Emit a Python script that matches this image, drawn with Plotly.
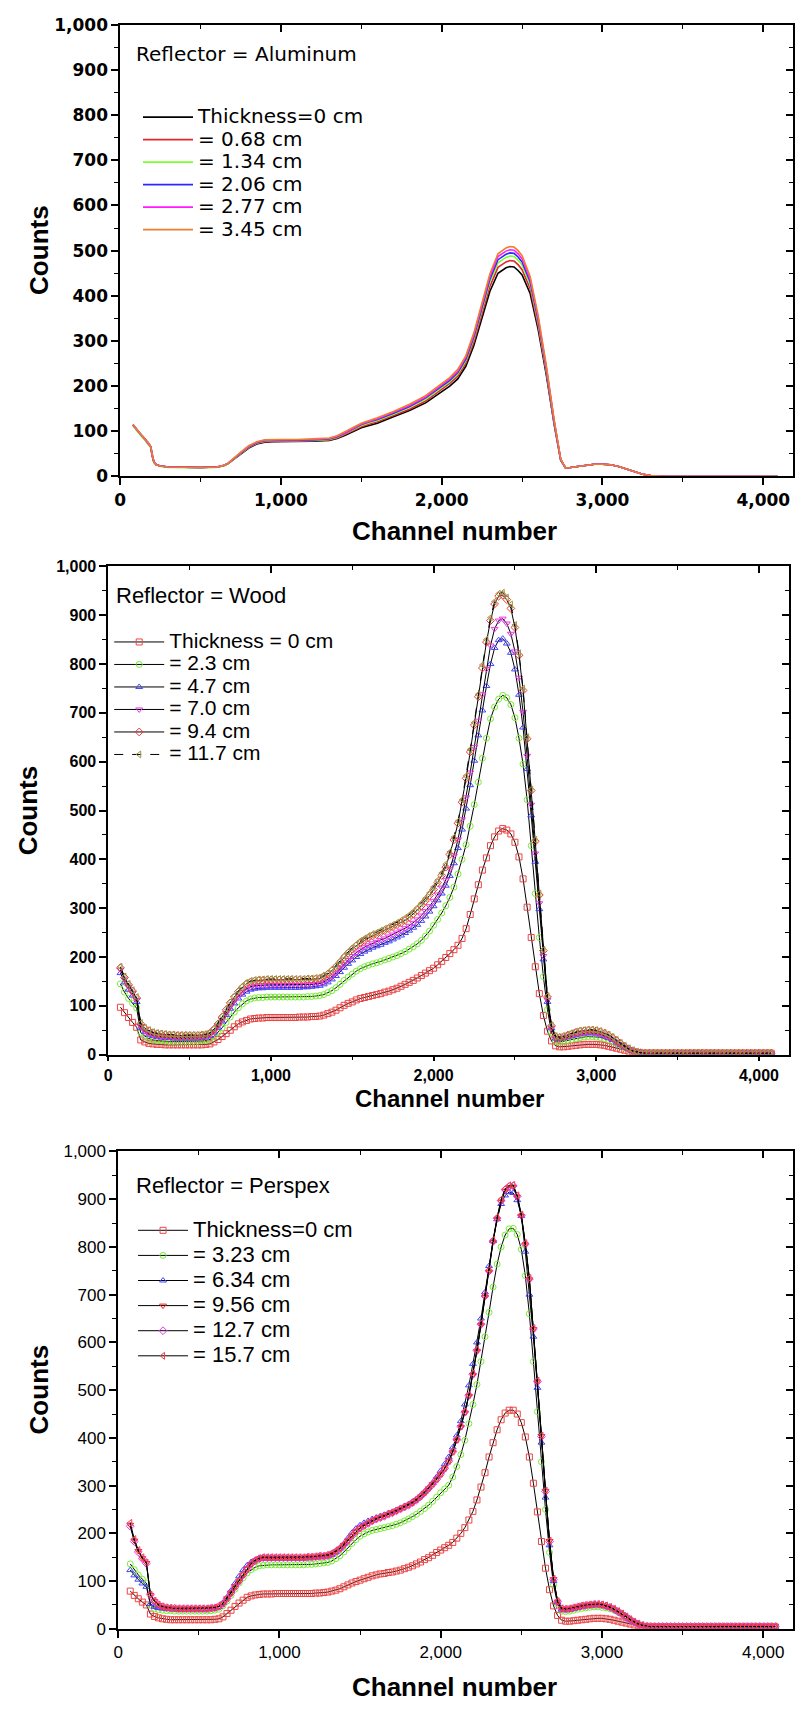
import plotly.graph_objects as go

FONT = "Liberation Sans, Arial, sans-serif"
WIDE = "DejaVu Sans, Verdana, sans-serif"
NARROW = "Liberation Sans Narrow, Arial Narrow, Liberation Sans, sans-serif"
W, H = 795, 1709

# ---------------- data ----------------
# Aluminum reflector (lines only)
AL_CHANNEL = [80, 100, 125, 150, 175, 190, 200, 210, 225, 250,
              300, 400, 500, 600, 640, 670, 700, 750, 800, 850,
              900, 950, 1000, 1100, 1200, 1300, 1350, 1400, 1450, 1500,
              1550, 1600, 1700, 1800, 1900, 2000, 2050, 2100, 2150, 2200,
              2250, 2300, 2350, 2400, 2425, 2450, 2475, 2500, 2550, 2600,
              2650, 2700, 2740, 2770,
              2800, 2850, 2900, 2950, 3000, 3050, 3100, 3150, 3200, 3250,
              3300, 3350, 3400, 3600, 3800, 4000, 4090]
AL_TAIL = [20, 22, 25, 27, 27, 26, 22, 16, 10, 5, 2, 1, 0, 0, 0, 0, 0]
AL_0 = [114, 104, 94, 84, 74, 66, 45, 32, 26, 23,
        21, 20, 20, 21, 23, 28, 36, 50, 63, 72,
        76, 77, 77, 77, 78, 80, 84, 91, 100, 108,
        113, 118, 132, 146, 163, 188, 200, 216, 244, 290,
        352, 410, 450, 462, 465, 464, 456, 446, 405, 325,
        226, 114, 36, 19] + AL_TAIL
AL_068 = [113, 103, 93, 83, 73, 65, 44, 32, 26, 23,
          21, 20, 20, 21, 23, 28, 37, 51, 64, 73,
          77, 78, 78, 78, 79, 81, 85, 93, 102, 110,
          116, 121, 135, 149, 167, 193, 206, 222, 251, 298,
          362, 421, 463, 475, 478, 477, 469, 458, 416, 333,
          231, 116, 37, 19] + AL_TAIL
AL_134 = [112, 102, 92, 82, 72, 64, 44, 31, 25, 22,
          20, 19, 19, 20, 23, 28, 37, 52, 65, 74,
          78, 79, 79, 79, 80, 82, 87, 95, 104, 113,
          119, 124, 138, 153, 171, 197, 210, 227, 256, 305,
          370, 431, 473, 485, 488, 487, 479, 468, 425, 341,
          236, 118, 37, 19] + AL_TAIL
AL_206 = [115, 105, 95, 85, 75, 66, 45, 32, 26, 23,
          21, 20, 20, 21, 24, 29, 38, 53, 66, 75,
          79, 80, 80, 80, 81, 83, 88, 96, 106, 115,
          121, 126, 140, 155, 174, 200, 213, 230, 260, 309,
          375, 437, 480, 492, 495, 494, 486, 475, 431, 346,
          240, 120, 38, 19] + AL_TAIL
AL_277 = [114, 104, 94, 84, 74, 66, 45, 32, 26, 23,
          21, 20, 20, 21, 24, 29, 38, 53, 67, 76,
          80, 81, 81, 81, 82, 84, 89, 97, 107, 116,
          122, 128, 142, 157, 176, 203, 216, 233, 264, 313,
          380, 443, 487, 499, 502, 501, 493, 482, 437, 351,
          243, 122, 38, 19] + AL_TAIL
AL_345 = [115, 105, 95, 85, 75, 66, 45, 32, 26, 23,
          21, 20, 20, 21, 24, 29, 39, 54, 68, 77,
          81, 82, 82, 82, 83, 85, 90, 99, 109, 118,
          124, 130, 144, 160, 179, 206, 219, 237, 267, 318,
          385, 449, 493, 506, 509, 508, 500, 489, 443, 356,
          247, 124, 39, 19] + AL_TAIL
AL_LABELS = ["Thickness=0 cm", "= 0.68 cm", "= 1.34 cm", "= 2.06 cm", "= 2.77 cm", "= 3.45 cm"]

# channel grid of the marker spectra (wood, perspex)
CHANNEL = [75, 100, 125, 150, 175, 200, 225, 250, 275, 300, 325, 350, 375, 400, 425, 450, 475, 500,
           525, 550, 575, 600, 625, 650, 675, 700, 725, 750, 775, 800, 825, 850, 875, 900, 925, 950,
           975, 1000, 1025, 1050, 1075, 1100, 1125, 1150, 1175, 1200, 1225, 1250, 1275, 1300, 1325,
           1350, 1375, 1400, 1425, 1450, 1475, 1500, 1525, 1550, 1575, 1600, 1625, 1650, 1675, 1700,
           1725, 1750, 1775, 1800, 1825, 1850, 1875, 1900, 1925, 1950, 1975, 2000, 2025, 2050, 2075,
           2100, 2125, 2150, 2175, 2200, 2225, 2250, 2275, 2300, 2325, 2350, 2375, 2400, 2425, 2450,
           2475, 2500, 2525, 2550, 2575, 2600, 2625, 2650, 2675, 2700, 2725, 2750, 2775, 2800, 2825,
           2850, 2875, 2900, 2925, 2950, 2975, 3000, 3025, 3050, 3075, 3100, 3125, 3150, 3175, 3200,
           3225, 3250, 3275, 3300, 3325, 3350, 3375, 3400, 3425, 3450, 3475, 3500, 3525, 3550, 3575,
           3600, 3625, 3650, 3675, 3700, 3725, 3750, 3775, 3800, 3825, 3850, 3875, 3900, 3925, 3950,
           3975, 4000, 4025, 4050, 4075]

TAIL3 = [3, 3, 3, 3, 3, 3, 3, 3, 3, 3,
         3, 3, 3, 3, 3, 3, 3, 3, 3, 3,
         3, 3, 3, 3, 3, 3, 3, 3, 3, 3, 3]
TAIL4 = [4, 4, 4, 4, 4, 4, 4, 4, 4, 4,
         4, 4, 4, 4, 4, 4, 4, 4, 4, 4,
         4, 4, 4, 4, 4, 4, 4, 4, 4, 4, 4]
TAIL5 = [5, 5, 5, 5, 5, 5, 5, 5, 5, 5,
         5, 5, 5, 5, 5, 5, 5, 5, 5, 5,
         5, 5, 5, 5, 5, 5, 5, 5, 5, 5, 5]

# Wood reflector
WOOD_0 = [97, 86, 76, 66, 56,
          30, 26, 23, 22,
          21, 21, 20, 20, 20, 20, 20, 20, 20, 20, 20, 20, 21,
          22, 26, 31, 37, 43, 50, 57, 63, 67, 70, 73, 74,
          75, 75, 76, 76, 76, 76, 76, 76, 76, 76, 77, 77, 77, 78, 78,
          79, 81, 84, 87, 91, 96, 101, 105, 108, 112, 115, 117, 119,
          121, 123, 125, 128, 130, 133, 136, 140, 144, 148, 152, 157, 162, 167, 172, 177,
          184, 191, 199, 207, 215, 224, 238, 258, 287, 319, 348, 378, 403, 428, 446, 458,
          463, 460, 452, 435, 405, 360, 302, 240, 180, 125, 80, 48, 28, 18,
          16, 16, 17, 18, 19, 20, 21, 21, 21, 21, 20, 19, 17, 15, 13, 11, 9, 7, 6, 4, 3, 3] + TAIL3
WOOD_23 = [145, 128, 115, 105, 95,
           45, 38, 33, 30,
           29, 28, 28, 27, 27, 27, 27, 27, 27, 27, 27, 28, 29,
           31, 37, 45, 55, 66, 77, 87, 96, 104, 110, 114, 116,
           117, 117, 118, 118, 118, 118, 118, 118, 118, 118, 118, 118, 119, 119, 120,
           121, 123, 127, 131, 137, 144, 152, 159, 165, 171, 176, 180, 183,
           186, 188, 191, 194, 197, 200, 203, 207, 211, 216, 221, 227, 234, 243, 253, 265,
           277, 290, 305, 322, 343, 370, 400, 430, 468, 512, 558, 607, 648, 688, 712, 728,
           736, 731, 717, 690, 648, 595, 522, 428, 330, 240, 160, 92, 45, 27,
           26, 27, 29, 31, 33, 35, 36, 37, 37, 36, 35, 33, 30, 27, 23, 19, 14, 10, 7, 5, 3, 3] + TAIL3
WOOD_47 = [167, 148, 133, 121, 108,
           55, 46, 41, 38,
           36, 35, 34, 34, 33, 33, 33, 33, 33, 33, 33, 34, 35,
           38, 45, 55, 68, 81, 94, 105, 115, 123, 129, 133, 135,
           136, 136, 137, 137, 137, 137, 137, 137, 137, 137, 137, 138, 138, 139, 140,
           141, 144, 148, 154, 161, 169, 178, 186, 193, 200, 206, 211, 215,
           219, 222, 225, 229, 232, 236, 240, 244, 249, 254, 260, 266, 274, 283, 293, 304,
           316, 330, 346, 366, 392, 423, 461, 504, 552, 602, 654, 705, 755, 800, 833, 849,
           852, 842, 823, 789, 737, 670, 585, 490, 395, 298, 195, 108, 54, 33,
           32, 34, 36, 38, 40, 42, 43, 44, 44, 43, 41, 38, 34, 30, 25, 20, 15, 11, 7, 5, 4, 3] + TAIL3
WOOD_70 = [174, 154, 139, 126, 112,
           58, 48, 43, 40,
           38, 37, 36, 36, 35, 35, 35, 35, 35, 35, 35, 36, 37,
           40, 47, 58, 71, 85, 98, 110, 120, 129, 135, 139, 141,
           142, 142, 143, 143, 143, 143, 143, 143, 143, 143, 143, 143, 144, 144, 145,
           146, 149, 154, 160, 168, 177, 186, 194, 202, 209, 215, 220, 224,
           228, 231, 235, 238, 242, 246, 250, 254, 259, 264, 270, 277, 285, 294, 304, 315,
           328, 342, 358, 380, 408, 441, 482, 527, 578, 630, 684, 738, 790, 838, 872, 889,
           893, 883, 862, 826, 772, 702, 612, 512, 412, 310, 202, 112, 55, 34,
           33, 35, 37, 39, 41, 43, 44, 45, 45, 44, 42, 39, 35, 31, 26, 20, 15, 11, 7, 5, 4, 3] + TAIL3
WOOD_94 = [178, 158, 143, 130, 116,
           63, 54, 49, 45,
           43, 42, 41, 40, 40, 39, 39, 39, 39, 39, 39, 40, 41,
           44, 52, 63, 77, 92, 106, 118, 129, 138, 145, 149, 151,
           152, 152, 153, 153, 153, 153, 153, 153, 153, 153, 153, 153, 154, 154, 155,
           156, 160, 165, 172, 180, 189, 199, 208, 216, 223, 229, 234, 239,
           243, 246, 250, 254, 258, 262, 266, 270, 275, 281, 288, 296, 305, 315, 326, 338,
           352, 367, 384, 410, 440, 474, 517, 566, 620, 675, 733, 792, 845, 889, 923, 939,
           941, 932, 914, 875, 818, 746, 647, 541, 437, 327, 213, 118, 59, 37,
           35, 37, 40, 43, 46, 48, 49, 50, 50, 49, 47, 44, 40, 35, 29, 23, 17, 12, 8, 5, 4, 3] + TAIL3
WOOD_117 = [180, 160, 145, 132, 118,
            65, 55, 50, 46,
            44, 43, 42, 41, 41, 40, 40, 40, 40, 40, 40, 41, 42,
            45, 53, 65, 79, 94, 108, 120, 131, 140, 147, 151, 153,
            154, 154, 155, 155, 155, 155, 155, 155, 155, 155, 155, 155, 156, 156, 157,
            158, 162, 167, 174, 182, 192, 202, 211, 219, 226, 233, 238, 243,
            247, 250, 254, 258, 262, 266, 270, 275, 280, 286, 293, 301, 310, 320, 331, 343,
            357, 372, 390, 415, 445, 478, 522, 571, 625, 680, 738, 798, 850, 895, 928, 944,
            946, 936, 922, 880, 822, 750, 650, 543, 440, 330, 215, 120, 60, 38,
            36, 38, 41, 44, 47, 49, 50, 51, 51, 50, 48, 45, 41, 36, 30, 24, 18, 13, 9, 6, 4, 3] + TAIL3
WOOD_LABELS = ["Thickness = 0 cm", "= 2.3 cm", "= 4.7 cm", "= 7.0 cm", "= 9.4 cm", "= 11.7 cm"]

# Perspex reflector
PERS_0 = [79, 70, 63, 56, 50,
          31, 26, 23, 21,
          20, 19, 19, 19, 19, 19, 19, 19, 19, 19, 19, 19, 20,
          21, 25, 32, 39, 47, 54, 60, 66, 69, 71, 72, 73,
          73, 73, 74, 74, 74, 74, 74, 74, 74, 74, 74, 74, 75, 75, 76,
          77, 79, 81, 84, 88, 92, 96, 99, 102, 105, 108, 111, 113,
          115, 116, 118, 119, 121, 123, 126, 129, 132, 136, 140, 145, 149, 154, 160, 165,
          170, 175, 181, 190, 200, 212, 228, 246, 270, 297, 327, 360, 390, 417, 438, 452,
          458, 458, 450, 432, 402, 360, 305, 245, 183, 127, 82, 48, 28, 18,
          16, 16, 17, 18, 19, 20, 21, 22, 22, 22, 21, 20, 18, 16, 14, 12, 10, 8, 7, 5, 4, 4] + TAIL4
PERS_323 = [136, 124, 113, 104, 96,
            50, 42, 40, 39,
            38, 38, 37, 37, 37, 37, 37, 37, 37, 37, 37, 38, 39,
            41, 48, 58, 70, 83, 96, 107, 117, 124, 129, 132, 133,
            134, 134, 134, 134, 134, 134, 134, 134, 134, 134, 135, 135, 136, 137, 138,
            139, 142, 147, 153, 161, 170, 179, 187, 194, 199, 203, 206, 208,
            210, 212, 214, 216, 219, 222, 226, 230, 235, 240, 246, 252, 259, 267, 276, 285,
            293, 301, 318, 340, 365, 395, 430, 470, 512, 560, 612, 663, 716, 764, 800, 825,
            838, 839, 826, 795, 740, 660, 560, 455, 350, 250, 160, 92, 52, 37,
            36, 37, 39, 41, 43, 44, 45, 46, 46, 45, 44, 42, 39, 35, 30, 25, 19, 14, 10, 7, 5, 4] + TAIL4
PERS_634 = [123, 112, 103, 95, 88,
            52, 46, 44, 43,
            42, 42, 41, 41, 41, 41, 41, 41, 41, 41, 41, 42, 43,
            46, 54, 66, 80, 95, 110, 123, 133, 140, 144, 146, 147,
            147, 147, 147, 147, 147, 147, 147, 147, 147, 147, 148, 148, 149, 150, 151,
            152, 155, 160, 168, 178, 190, 201, 210, 217, 222, 226, 230, 233,
            236, 239, 242, 245, 249, 253, 257, 261, 266, 272, 279, 287, 296, 306, 318, 331,
            345, 360, 380, 405, 435, 470, 510, 555, 600, 650, 705, 760, 812, 858, 890, 908,
            915, 913, 898, 865, 790, 700, 612, 505, 390, 275, 175, 100, 55, 40,
            39, 40, 42, 44, 46, 48, 49, 50, 50, 49, 47, 44, 41, 36, 31, 25, 19, 14, 10, 7, 5, 4] + TAIL4
PERS_956 = [218, 185, 163, 148, 138,
            71, 58, 50, 46,
            44, 43, 43, 42, 42, 42, 42, 42, 42, 42, 42, 43, 44,
            47, 53, 64, 76, 89, 101, 114, 126, 136, 143, 147, 149,
            149, 149, 149, 149, 149, 149, 149, 149, 149, 149, 150, 150, 151, 152, 152,
            154, 157, 162, 168, 176, 185, 195, 204, 211, 216, 221, 226, 230,
            233, 236, 240, 243, 247, 251, 255, 259, 264, 270, 277, 285, 294, 303, 313, 324,
            336, 351, 370, 395, 423, 453, 488, 532, 582, 636, 695, 748, 810, 858, 895, 918,
            925, 926, 905, 865, 805, 732, 628, 518, 404, 289, 184, 104, 57, 42,
            41, 42, 44, 46, 48, 49, 50, 51, 51, 50, 48, 45, 41, 36, 31, 25, 19, 14, 10, 7, 5, 5] + TAIL5
PERS_127 = [215, 183, 161, 147, 137,
            71, 58, 50, 46,
            44, 43, 43, 42, 42, 42, 42, 42, 42, 42, 42, 43, 44,
            47, 53, 63, 75, 88, 100, 113, 126, 136, 143, 147, 149,
            149, 149, 149, 149, 149, 149, 149, 149, 149, 149, 150, 150, 151, 152, 152,
            154, 157, 162, 168, 176, 185, 195, 204, 211, 216, 221, 226, 230,
            233, 236, 240, 243, 247, 251, 255, 259, 264, 270, 277, 285, 294, 303, 313, 324,
            336, 351, 371, 396, 424, 454, 489, 533, 583, 638, 697, 750, 812, 860, 897, 920,
            927, 928, 906, 866, 806, 733, 628, 518, 403, 288, 183, 103, 57, 42,
            41, 42, 44, 46, 48, 49, 50, 51, 51, 50, 48, 45, 41, 36, 31, 25, 19, 14, 10, 7, 5, 5] + TAIL5
PERS_157 = [222, 188, 165, 150, 139,
            72, 59, 51, 47,
            45, 44, 43, 43, 43, 43, 43, 43, 43, 43, 43, 44, 45,
            47, 53, 64, 76, 89, 101, 114, 127, 137, 144, 148, 150,
            150, 150, 150, 150, 150, 150, 150, 150, 150, 150, 151, 151, 152, 153, 153,
            155, 158, 163, 169, 177, 186, 196, 205, 212, 217, 222, 227, 231,
            234, 237, 241, 244, 248, 252, 256, 260, 265, 271, 278, 286, 295, 304, 314, 325,
            337, 352, 372, 397, 425, 455, 490, 535, 585, 640, 700, 752, 815, 862, 900, 922,
            929, 930, 908, 868, 808, 735, 630, 520, 405, 290, 185, 105, 58, 43,
            42, 43, 45, 47, 49, 50, 51, 52, 52, 51, 49, 46, 42, 37, 32, 26, 20, 15, 11, 8, 6, 5] + TAIL5
PERS_LABELS = ["Thickness=0 cm", "= 3.23 cm", "= 6.34 cm", "= 9.56 cm", "= 12.7 cm", "= 15.7 cm"]

for nm, arr, ref in [("AL_0", AL_0, AL_CHANNEL), ("AL_068", AL_068, AL_CHANNEL), ("AL_134", AL_134, AL_CHANNEL),
                     ("AL_206", AL_206, AL_CHANNEL), ("AL_277", AL_277, AL_CHANNEL), ("AL_345", AL_345, AL_CHANNEL),
                     ("WOOD_0", WOOD_0, CHANNEL), ("WOOD_23", WOOD_23, CHANNEL), ("WOOD_47", WOOD_47, CHANNEL),
                     ("WOOD_70", WOOD_70, CHANNEL), ("WOOD_94", WOOD_94, CHANNEL), ("WOOD_117", WOOD_117, CHANNEL),
                     ("PERS_0", PERS_0, CHANNEL), ("PERS_323", PERS_323, CHANNEL), ("PERS_634", PERS_634, CHANNEL),
                     ("PERS_956", PERS_956, CHANNEL), ("PERS_127", PERS_127, CHANNEL), ("PERS_157", PERS_157, CHANNEL)]:
    if len(arr) != len(ref):
        raise ValueError(f"{nm}: {len(arr)} values for {len(ref)} channels")

# ---------------- styling ----------------
AL_COLORS = ["#000000", "#e3262b", "#7dff2e", "#2a2aff", "#ff1cff", "#f07d2e"]
WOOD_MARKERS = [("square-open", "#ee4444"), ("circle-open", "#77ee33"), ("triangle-up-open", "#4444ff"),
                ("triangle-down-open", "#ee33ee"), ("diamond-open", "#ee3333"), ("triangle-left-open", "#999944")]
PERS_MARKERS = [("square-open", "#ee4444"), ("circle-open", "#77ee33"), ("triangle-up-open", "#4444ff"),
                ("triangle-down-open", "#ee2222"), ("diamond-open", "#ee33ee"), ("triangle-left-open", "#ee4444")]
ITEMW = 50  # legend symbol slot width


def dom_x(a, b):
    return [a / W, b / W]


def dom_y(top, bottom):
    return [1 - bottom / H, 1 - top / H]


def leg_name(t, size):
    return f'<span style="font-size:{size}px">{t}</span>'


fig = go.Figure()

# panel 1: aluminum
for ys, lab, col in zip([AL_0, AL_068, AL_134, AL_206, AL_277, AL_345], AL_LABELS, AL_COLORS):
    fig.add_trace(go.Scatter(x=AL_CHANNEL, y=ys, name=leg_name(lab, 20), mode="lines",
                             line=dict(color=col, width=1.6), xaxis="x", yaxis="y", legend="legend"))

# panel 2: wood
for i, (ys, lab, (sym, col)) in enumerate(zip([WOOD_0, WOOD_23, WOOD_47, WOOD_70, WOOD_94, WOOD_117],
                                              WOOD_LABELS, WOOD_MARKERS)):
    fig.add_trace(go.Scatter(x=CHANNEL, y=ys, name=leg_name(lab, 21), mode="lines+markers",
                             line=dict(color="black", width=1, dash="dash" if i == 5 else "solid"),
                             marker=dict(symbol=sym, size=6, color=col, line=dict(width=1, color=col)),
                             xaxis="x2", yaxis="y2", legend="legend2"))

# panel 3: perspex
for ys, lab, (sym, col) in zip([PERS_0, PERS_323, PERS_634, PERS_956, PERS_127, PERS_157],
                               PERS_LABELS, PERS_MARKERS):
    fig.add_trace(go.Scatter(x=CHANNEL, y=ys, name=leg_name(lab, 22), mode="lines+markers",
                             line=dict(color="black", width=1),
                             marker=dict(symbol=sym, size=6, color=col, line=dict(width=1, color=col)),
                             xaxis="x3", yaxis="y3", legend="legend3"))

# empty traces that host the inward-ticked top/right axes
for n in (4, 5, 6):
    fig.add_trace(go.Scatter(x=[], y=[], xaxis=f"x{n}", yaxis=f"y{n}", showlegend=False, hoverinfo="skip"))

PANELS = [
    dict(x0=115, x1=793, top=15, bottom=472, xticklen=7,
         tickfont=dict(family=WIDE, size=17, color="black", weight="bold")),
    dict(x0=103, x1=789, top=563, bottom=1057, xticklen=5,
         tickfont=dict(family=FONT, size=16, color="black", weight="bold")),
    dict(x0=113, x1=793, top=1155, bottom=1638, xticklen=7,
         tickfont=dict(family=FONT, size=17, color="black")),
]
XR = [0, 4185]
YR = [0, 1000]

layout = dict(width=W, height=H, autosize=False, margin=dict(l=0, r=0, t=0, b=0),
              paper_bgcolor="white", plot_bgcolor="white", showlegend=True)

for k, p in enumerate(PANELS, start=1):
    sx = "" if k == 1 else str(k)
    xd, yd = dom_x(p["x0"], p["x1"]), dom_y(p["top"], p["bottom"])
    layout[f"xaxis{sx}"] = dict(domain=xd, range=XR, anchor=f"y{sx}", tickmode="linear", tick0=0, dtick=1000,
                                tickformat=",d", ticks="outside", ticklen=p["xticklen"], tickwidth=1.5,
                                tickcolor="black", showline=True, linewidth=1.5, linecolor="black", mirror=True,
                                showgrid=False, zeroline=False, tickfont=p["tickfont"], fixedrange=True,
                                minor=dict(ticks="outside", ticklen=4, tickwidth=1.2, tickcolor="black",
                                           tickmode="linear", tick0=0, dtick=500, showgrid=False))
    layout[f"yaxis{sx}"] = dict(domain=yd, range=YR, anchor=f"x{sx}", tickmode="linear", tick0=0, dtick=100,
                                tickformat=",d", ticks="outside", ticklen=7, tickwidth=1.5, tickcolor="black",
                                showline=True, linewidth=1.5, linecolor="black", mirror=True, showgrid=False,
                                zeroline=False, tickfont=p["tickfont"], fixedrange=True,
                                minor=dict(ticks="outside", ticklen=4, tickwidth=1.2, tickcolor="black",
                                           tickmode="linear", tick0=0, dtick=50, showgrid=False))
    n = k + 3
    base_x = "x" if k == 1 else f"x{k}"
    base_y = "y" if k == 1 else f"y{k}"
    layout[f"xaxis{n}"] = dict(overlaying=base_x, anchor=f"y{n}", side="top", range=XR, tickmode="linear",
                               tick0=0, dtick=1000, ticks="inside", ticklen=7, tickwidth=1.5, tickcolor="black",
                               showticklabels=False, showline=False, showgrid=False, zeroline=False,
                               fixedrange=True,
                               minor=dict(ticks="inside", ticklen=4, tickwidth=1.2, tickcolor="black",
                                          tickmode="linear", tick0=0, dtick=500, showgrid=False))
    layout[f"yaxis{n}"] = dict(overlaying=base_y, anchor=f"x{n}", side="right", range=YR, tickmode="linear",
                               tick0=0, dtick=100, ticks="inside", ticklen=7, tickwidth=1.5, tickcolor="black",
                               showticklabels=False, showline=False, showgrid=False, zeroline=False,
                               fixedrange=True,
                               minor=dict(ticks="inside", ticklen=4, tickwidth=1.2, tickcolor="black",
                                          tickmode="linear", tick0=0, dtick=50, showgrid=False))

# legend text starts ITEMW + 10 px right of the legend's left edge
LEG = dict(xanchor="left", yanchor="top", bgcolor="rgba(0,0,0,0)", borderwidth=0, itemwidth=ITEMW,
           tracegroupgap=0)
layout["legend"] = dict(LEG, x=(193 - ITEMW - 10) / W, y=1 - 92 / H,
                        font=dict(family=WIDE, size=15, color="black"))
layout["legend2"] = dict(LEG, x=(164 - ITEMW - 10) / W, y=1 - 623 / H,
                         font=dict(family=FONT, size=15, color="black"))
layout["legend3"] = dict(LEG, x=(188 - ITEMW - 10) / W, y=1 - 1217 / H,
                         font=dict(family=FONT, size=17, color="black"))


def ann(text, x, y, size, family=FONT, bold=False, angle=0, xanchor="center"):
    return dict(text=text, x=x / W, y=1 - y / H, xref="paper", yref="paper", showarrow=False,
                xanchor=xanchor, yanchor="middle", textangle=angle,
                font=dict(family=family, size=size, color="black", weight="bold" if bold else "normal"))


layout["annotations"] = [
    ann("Reflector = Aluminum", 129, 45, 20, family=WIDE, xanchor="left"),
    ann("Reflector = Wood", 109, 592, 22, xanchor="left"),
    ann("Reflector = Perspex", 129, 1189, 22, xanchor="left"),
    ann("Counts", 33, 243, 26, family=NARROW, bold=True, angle=-90),
    ann("Counts", 22, 810, 26, family=NARROW, bold=True, angle=-90),
    ann("Counts", 33, 1396, 26, family=NARROW, bold=True, angle=-90),
    ann("Channel number", 452, 527, 26, bold=True),
    ann("Channel number", 447, 1101, 24, bold=True),
    ann("Channel number", 452, 1697, 26, bold=True),
]

fig.update_layout(**layout)
fig.write_html("out.html", config={"displayModeBar": False},
               post_script="document.body.style.margin='0';document.body.style.overflow='hidden';")
